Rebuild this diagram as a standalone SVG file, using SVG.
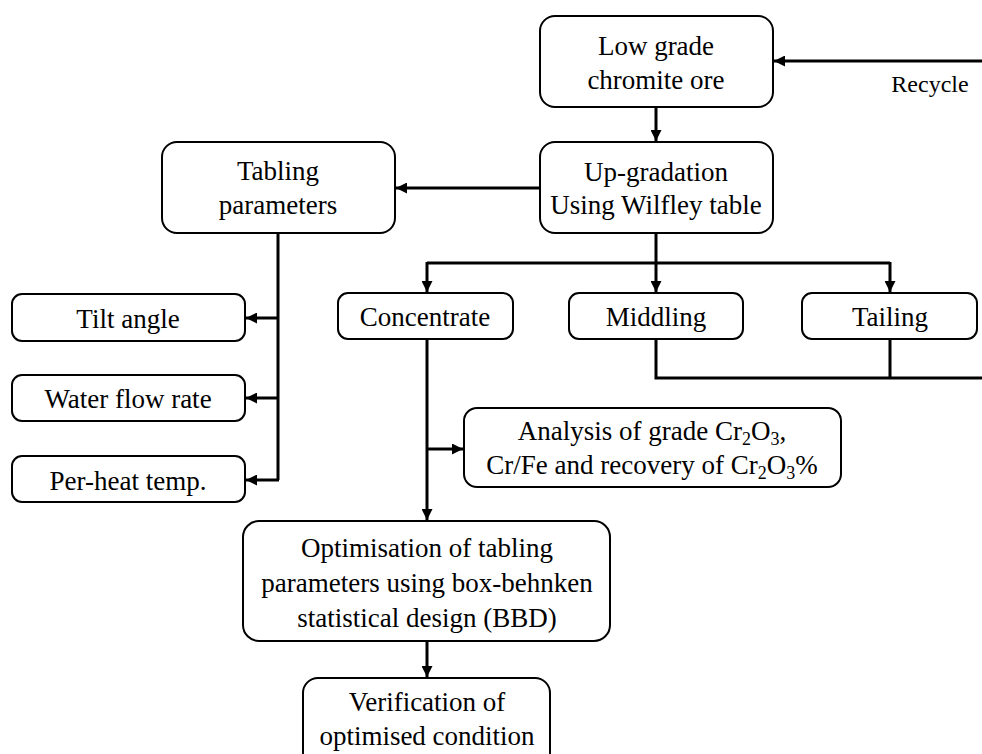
<svg xmlns="http://www.w3.org/2000/svg" width="982" height="754" viewBox="0 0 982 754">
<style>
.box{fill:#fff;stroke:#000;stroke-width:2}
.t{font-family:"Liberation Serif","Times New Roman",serif;font-size:27px;fill:#000;text-anchor:middle}
.s{font-size:18px}
.ln{fill:none;stroke:#000;stroke-width:3}
</style>
<defs>
<marker id="ah" markerUnits="userSpaceOnUse" markerWidth="11" markerHeight="11" refX="11" refY="5.5" orient="auto">
<path d="M0,0 L11,5.5 L0,11 z" fill="#000"/>
</marker>
</defs>
<rect width="982" height="754" fill="#fff"/>
<g id="connectors">
<path class="ln" d="M982,61 L774,61" marker-end="url(#ah)"/>
<path class="ln" d="M656,107 L656,141" marker-end="url(#ah)"/>
<path class="ln" d="M540,188 L396,188" marker-end="url(#ah)"/>
<path class="ln" d="M656,233 L656,263"/>
<path class="ln" d="M427,263 L890,263"/>
<path class="ln" d="M427,262 L427,292" marker-end="url(#ah)"/>
<path class="ln" d="M656,262 L656,292" marker-end="url(#ah)"/>
<path class="ln" d="M890,262 L890,292" marker-end="url(#ah)"/>
<path class="ln" d="M656,339 L656,378 L982,378"/>
<path class="ln" d="M890,339 L890,378"/>
<path class="ln" d="M278,233 L278,480"/>
<path class="ln" d="M279,318 L246,318" marker-end="url(#ah)"/>
<path class="ln" d="M279,398 L246,398" marker-end="url(#ah)"/>
<path class="ln" d="M279,480 L246,480" marker-end="url(#ah)"/>
<path class="ln" d="M427,339 L427,520" marker-end="url(#ah)"/>
<path class="ln" d="M426,449 L463,449" marker-end="url(#ah)"/>
<path class="ln" d="M427,641 L427,677" marker-end="url(#ah)"/>
<text class="t" x="930" y="92" style="font-size:24px">Recycle</text>
</g>
<g id="low-grade">
<rect class="box" x="540" y="16" width="233" height="91" rx="15"/>
<text class="t" x="656" y="55">Low grade</text>
<text class="t" x="656" y="89">chromite ore</text>
</g>
<g id="upgradation">
<rect class="box" x="540" y="142" width="233" height="91" rx="15"/>
<text class="t" x="656" y="181">Up-gradation</text>
<text class="t" x="656" y="214">Using Wilfley table</text>
</g>
<g id="tabling">
<rect class="box" x="162" y="142" width="233" height="91" rx="15"/>
<text class="t" x="278" y="180">Tabling</text>
<text class="t" x="278" y="214">parameters</text>
</g>
<g id="tilt">
<rect class="box" x="12" y="294" width="233" height="47" rx="10"/>
<text class="t" x="128" y="328">Tilt angle</text>
</g>
<g id="water">
<rect class="box" x="12" y="375" width="233" height="46" rx="10"/>
<text class="t" x="128" y="408">Water flow rate</text>
</g>
<g id="preheat">
<rect class="box" x="12" y="456" width="233" height="46" rx="10"/>
<text class="t" x="128" y="490">Per-heat temp.</text>
</g>
<g id="concentrate">
<rect class="box" x="338" y="293" width="175" height="46" rx="10"/>
<text class="t" x="425" y="326">Concentrate</text>
</g>
<g id="middling">
<rect class="box" x="569" y="293" width="174" height="46" rx="10"/>
<text class="t" x="656" y="326">Middling</text>
</g>
<g id="tailing">
<rect class="box" x="802" y="293" width="175" height="46" rx="10"/>
<text class="t" x="890" y="326">Tailing</text>
</g>
<g id="analysis">
<rect class="box" x="464" y="408" width="377" height="79" rx="13"/>
<text class="t" x="652" y="440">Analysis of grade Cr<tspan class="s" dy="5">2</tspan><tspan dy="-5">O</tspan><tspan class="s" dy="5">3</tspan><tspan dy="-5">,</tspan></text>
<text class="t" x="652" y="474">Cr/Fe and recovery of Cr<tspan class="s" dy="5">2</tspan><tspan dy="-5">O</tspan><tspan class="s" dy="5">3</tspan><tspan dy="-5">%</tspan></text>
</g>
<g id="optimisation">
<rect class="box" x="243" y="521" width="367" height="120" rx="16"/>
<text class="t" x="427" y="557">Optimisation of tabling</text>
<text class="t" x="427" y="592">parameters using box-behnken</text>
<text class="t" x="427" y="627">statistical design (BBD)</text>
</g>
<g id="verification">
<rect class="box" x="303" y="678" width="247" height="90" rx="15"/>
<text class="t" x="427" y="711">Verification of</text>
<text class="t" x="427" y="745">optimised condition</text>
</g>
</svg>
